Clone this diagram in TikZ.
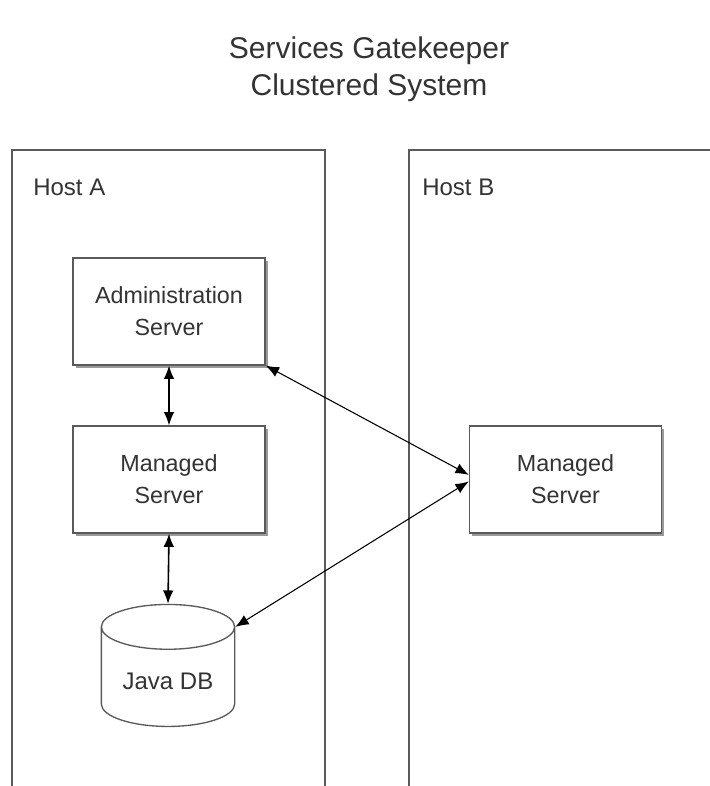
\documentclass[tikz,border=0pt]{standalone}
\usepackage{fontspec}
\setmainfont{Liberation Sans}
\usetikzlibrary{shapes.geometric,shadows,arrows.meta}
\definecolor{edgegray}{HTML}{5A5A5A}
\definecolor{shadegray}{HTML}{9A9A9A}
\definecolor{txtgray}{HTML}{333333}
\tikzset{
  server/.style={draw=edgegray, line width=1.1pt, fill=white, minimum width=144pt,
    minimum height=80pt, align=center, text=txtgray,
    font=\fontsize{17.5}{24}\selectfont,
    drop shadow={shadow xshift=2.2pt, shadow yshift=-2.2pt, fill=shadegray, opacity=1}},
  hostframe/.style={draw=edgegray, line width=1.1pt},
  hostlabel/.style={anchor=west, text=txtgray, inner sep=0pt, font=\fontsize{18}{22}\selectfont},
  link/.style={>={Latex[length=10pt,width=8pt]}, <->, line width=0.8pt},
  vlink/.style={link, line width=1.2pt}
}

\begin{document}
\begin{tikzpicture}[x=0.75pt, y=-0.75pt]
                        \useasboundingbox (0,0) rectangle (710,786);
                        \node[align=center, text=txtgray, font=\fontsize{22.5}{27.75}\selectfont] (title) at (369,69) {Services Gatekeeper\\Clustered System};
                        \draw[hostframe] (12,786) -- (12,150) -- (325,150) -- (325,786);
                        \draw[hostframe] (409,786) -- (409,150) -- (720,150);
                        \node[hostlabel] (hosta) at (33,187) {Host A};
                        \node[hostlabel] (hostb) at (422,187) {Host B};
                        \node[server] (admin) at (169,311.5) {Administration\\Server};
                        \node[server] (mgda) at (169,479.5) {Managed\\Server};
                        \node[server] (mgdb) at (565.5,479.5) {Managed\\Server};
                        \node[cylinder, shape border rotate=90, draw=edgegray, line width=1pt, fill=white,
                              minimum width=100pt, minimum height=91.5pt, aspect=0.45, text=txtgray,
                              font=\fontsize{18}{22}\selectfont] (db) at (168,681) {Java DB};
                        \draw[vlink] (admin.south) -- (mgda.north);
                        \draw[vlink] (mgda.south) -- (db.north);
                        \draw[link] (admin.south east) -- ([yshift=3.5pt]mgdb.west);
                        \draw[link] (db.after top) -- ([yshift=-1.5pt]mgdb.west);
                    \end{tikzpicture}
\end{document}
